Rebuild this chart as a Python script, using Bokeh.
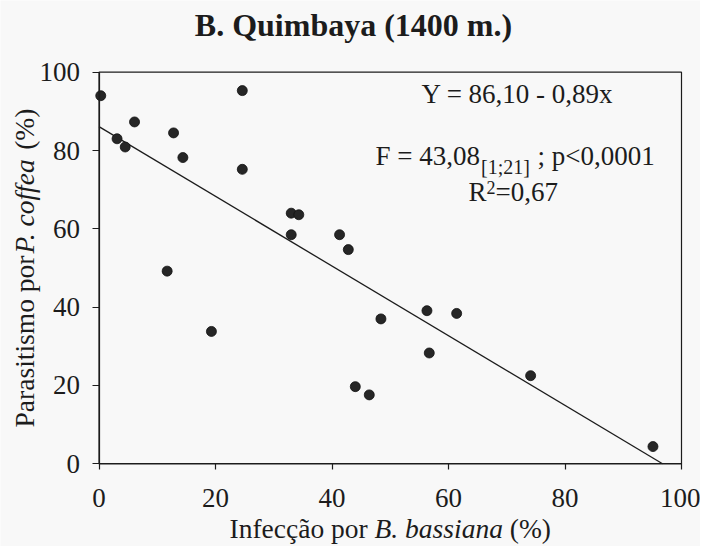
import math
from bokeh.plotting import figure
from bokeh.models import Label, Range1d, BoxAnnotation
from bokeh.embed import file_html
from bokeh.resources import INLINE

# ---------------- data ----------------
infeccao = [0.3, 3.1, 4.5, 6.1, 12.8, 14.4, 24.6, 24.6, 33.0, 34.3, 33.0, 41.3,
            42.8, 11.7, 19.3, 48.4, 56.3, 61.4, 56.7, 44.0, 46.4, 74.1, 95.1]
parasitismo = [94.0, 83.0, 80.9, 87.3, 84.5, 78.2, 95.3, 75.2, 64.0, 63.6, 58.5, 58.5,
               54.7, 49.2, 33.8, 37.0, 39.1, 38.4, 28.3, 19.7, 17.6, 22.5, 4.4]
intercept = 86.10
slope = -0.89
x_ticks = [0, 20, 40, 60, 80, 100]
y_ticks = [0, 20, 40, 60, 80, 100]

title_text = "B. Quimbaya (1400 m.)"
xlabel_parts = [("Infecção por ", "normal"), ("B. bassiana", "italic"), (" (%)", "normal")]
ylabel_parts = [("Parasitismo por", "normal"), ("P. coffea", "italic"), ("(%)", "normal")]
eq_text = "Y = 86,10 - 0,89x"
f_parts = [("F = 43,08", 27, 0), ("[1;21]", 20, 11), (" ; p<0,0001", 27, 0)]
r2_parts = [("R", 27, 0), ("2", 18, 4), ("=0,67", 27, 0)]

FONT = "Liberation Serif"
INK = "#1c1c1c"
BG = "#f8f8f8"

# ---------------- layout (pixels of the canvas) ----------------
W, H = 700, 546
AX_L, AX_R = 98.5, 681.0      # pixel x of data 0 and 100
AX_B, AX_T = 463.3, 71.7      # pixel y of data 0 and 100
SX = (AX_R - AX_L) / 100.0
SY = (AX_B - AX_T) / 100.0


def dx(px):
    return (px - AX_L) / SX


def dy(py):
    return (AX_B - py) / SY


p = figure(width=W, height=H, output_backend="svg", toolbar_location=None,
           x_range=Range1d(dx(0), dx(W)), y_range=Range1d(dy(H), dy(0)),
           min_border=0, background_fill_color=BG, border_fill_color=BG)
p.title.visible = False
p.xgrid.visible = False
p.ygrid.visible = False
p.outline_line_color = None

for ax, tout in ((p.xaxis, 6), (p.yaxis, 7)):
    ax.fixed_location = 0
    ax.bounds = (0, 100)
    ax.axis_line_color = INK
    ax.axis_line_width = 1.2
    ax.major_tick_line_color = INK
    ax.major_tick_line_width = 1.2
    ax.major_tick_out = tout
    ax.major_tick_in = 0
    ax.minor_tick_line_color = None
    ax.major_label_text_font = FONT
    ax.major_label_text_font_size = "27px"
    ax.major_label_text_color = INK
p.xaxis.ticker = x_ticks
p.yaxis.ticker = y_ticks
p.xaxis.major_label_standoff = 19
p.yaxis.major_label_standoff = 12

# top / right frame of the plotting box
p.add_layout(BoxAnnotation(left=0, right=100, bottom=0, top=100, fill_alpha=0,
                           line_color=INK, line_width=1.2, line_alpha=1))

# regression line
x_end = -intercept / slope
p.line([0, x_end], [intercept, intercept + slope * x_end], line_color=INK, line_width=1.3)

# points
p.scatter(infeccao, parasitismo, size=10, fill_color="#262626", line_color="#111111",
          line_width=0.8)

# ---------------- text helpers ----------------
TIMES = {
    "normal": {" ": 250, "(": 333, ")": 333, "%": 833, ".": 250, "I": 333, "P": 556,
               "a": 444, "c": 444, "e": 444, "f": 333, "i": 278, "m": 778, "n": 500,
               "o": 500, "p": 500, "r": 333, "s": 389, "t": 278, "ç": 444, "ã": 444,
               "F": 556, "=": 564, ",": 250, "[": 333, "]": 333, ";": 278, "<": 564,
               "R": 667},
    "italic": {" ": 250, ".": 250, "B": 611, "P": 611, "a": 500, "b": 500, "c": 444,
               "e": 444, "f": 278, "i": 278, "n": 500, "o": 500, "s": 389},
}


def width(text, style, size):
    return sum(TIMES[style].get(ch, 500) for ch in text) / 1000.0 * size


def put(text, px, py, size, style="normal", align="left", angle=0.0):
    # (px, py): left/center point and vertical middle of the capitals
    p.add_layout(Label(x=dx(px), y=dy(py), text=text,
                       text_font=FONT, text_font_size=f"{size}px",
                       text_font_style=style, text_align=align,
                       text_baseline="middle", angle=angle, text_color=INK))


def lead(text, style, size):
    stripped = text.lstrip(" ")
    return stripped, width(text[:len(text) - len(stripped)], style, size)


# title
put(title_text, 353, 24, 32, "bold", "center")

# x axis label
xs = 27.5
total = sum(width(t, s, xs) for t, s in xlabel_parts)
cx = (AX_L + AX_R) / 2 - total / 2
for t, s in xlabel_parts:
    txt, off = lead(t, s, xs)
    put(txt, cx + off, 528, xs, s)
    cx += width(t, s, xs)

# y axis label (rotated)
ys = 27.5
gaps = [2, 6, 0]
total = sum(width(t, s, ys) for t, s in ylabel_parts) + sum(gaps)
cy = (AX_T + AX_B) / 2 + total / 2
for (t, s), g in zip(ylabel_parts, gaps):
    put(t, 24, cy, ys, s, "left", math.pi / 2)
    cy -= width(t, s, ys) + g

# regression statistics
put(eq_text, 517, 93, 27, "normal", "center")

cx = 375
for t, size, drop in f_parts:
    txt, off = lead(t, "normal", size)
    put(txt, cx + off, 155 + drop, size)
    cx += width(t, "normal", size) + 1

cx = 468
for t, size, rise in r2_parts:
    put(t, cx, 191 - rise, size)
    cx += width(t, "normal", size)

open("out.html", "w").write(file_html(p, INLINE))
